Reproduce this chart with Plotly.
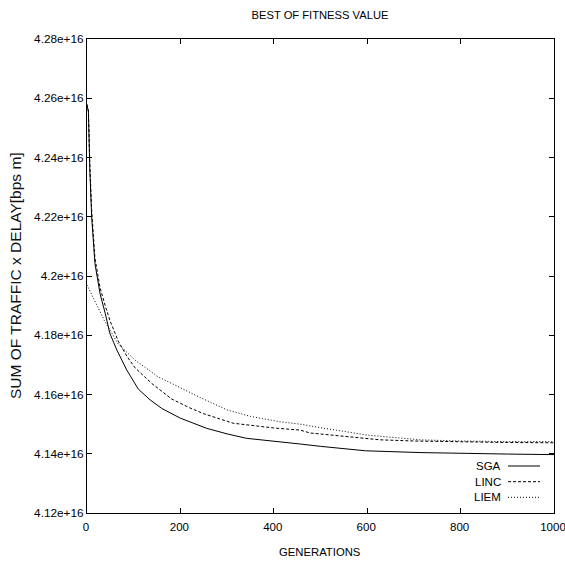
import plotly.graph_objects as go

# ---- data (values in units of 1e16) ----
sga_x = [0, 3, 6, 10, 17, 28, 39, 49, 64, 85, 110, 135, 160, 200, 256, 300, 342, 413, 456, 500, 596, 713, 800, 900, 1000]
sga_y = [4.2575, 4.2555, 4.236, 4.220, 4.2042, 4.194, 4.1874, 4.1806, 4.175, 4.1683, 4.1618, 4.1582, 4.1553, 4.152, 4.1486, 4.1467, 4.1452, 4.1441, 4.1433, 4.1425, 4.141, 4.1404, 4.1401, 4.1399, 4.1397]

linc_x = [0, 3, 6, 10, 17, 28, 39, 49, 67, 85, 103, 139, 181, 220, 250, 313, 400, 456, 478, 550, 628, 700, 800, 900, 1000]
linc_y = [4.258, 4.256, 4.238, 4.222, 4.206, 4.196, 4.190, 4.185, 4.178, 4.173, 4.169, 4.1637, 4.1585, 4.1555, 4.1535, 4.1503, 4.1487, 4.148, 4.147, 4.1458, 4.1447, 4.1443, 4.144, 4.1438, 4.1437]

liem_x = [0, 23, 37, 67, 103, 152, 202, 249, 300, 350, 413, 456, 500, 600, 713, 800, 900, 1000]
liem_y = [4.197, 4.1893, 4.185, 4.177, 4.1716, 4.166, 4.162, 4.1585, 4.1548, 4.1526, 4.1508, 4.150, 4.1488, 4.1463, 4.1447, 4.1443, 4.1441, 4.1441]

series_names = ["SGA", "LINC", "LIEM"]
y_ticks = [4.12, 4.14, 4.16, 4.18, 4.2, 4.22, 4.24, 4.26, 4.28]
y_tick_labels = ["4.12e+16", "4.14e+16", "4.16e+16", "4.18e+16", "4.2e+16", "4.22e+16", "4.24e+16", "4.26e+16", "4.28e+16"]
x_ticks = [0, 200, 400, 600, 800, 1000]

FONT = "Liberation Sans, Arial, sans-serif"

dashes = ["solid", "3px,2px", "1px,2px"]
xs = [sga_x, linc_x, liem_x]
ys = [sga_y, linc_y, liem_y]

fig = go.Figure()
for name, x, y, d in zip(series_names, xs, ys, dashes):
    fig.add_trace(go.Scatter(x=x, y=y, mode="lines", name=name,
                             line=dict(color="black", width=1, dash=d)))

L, R, T, B = 87, 11, 39, 48
W, H = 565, 561
pw, ph = W - L - R, H - T - B
def px_to_paper_x(px):
    return (px - L) / pw
def py_to_paper_y(py):
    return (H - B - py) / ph

# gnuplot-style legend: text right-aligned, sample line to the right
leg_y = [466, 481.7, 497.3]
for name, py, d in zip(series_names, leg_y, dashes):
    fig.add_annotation(x=px_to_paper_x(503), y=py_to_paper_y(py), xref="paper", yref="paper",
                       text=name, showarrow=False, xanchor="right", yanchor="middle",
                       font=dict(family=FONT, size=11.5, color="black"))
    fig.add_shape(type="line", xref="paper", yref="paper",
                  x0=px_to_paper_x(508), x1=px_to_paper_x(540),
                  y0=py_to_paper_y(py), y1=py_to_paper_y(py),
                  line=dict(color="black", width=1, dash=d))

axis_common = dict(showline=True, linecolor="black", linewidth=1, mirror="ticks",
                   ticks="inside", ticklen=5, tickcolor="black", tickwidth=1,
                   showgrid=False, zeroline=False, ticklabeloverflow="allow",
                   automargin=False)

# axis titles placed as paper annotations at their reference positions
fig.add_annotation(x=px_to_paper_x(320), y=py_to_paper_y(551.5), xref="paper", yref="paper",
                   text="GENERATIONS", showarrow=False, xanchor="center", yanchor="middle",
                   font=dict(family=FONT, size=11.3, color="black"))
fig.add_annotation(x=px_to_paper_x(15), y=py_to_paper_y(276), xref="paper", yref="paper",
                   text="SUM OF TRAFFIC x DELAY[bps m]", showarrow=False, textangle=-90,
                   xanchor="center", yanchor="middle",
                   font=dict(family=FONT, size=15.5, color="#111111"))

fig.update_layout(
    width=W, height=H,
    margin=dict(l=L, r=R, t=T, b=B, pad=0),
    paper_bgcolor="white", plot_bgcolor="white",
    showlegend=False,
    title=dict(text="BEST OF FITNESS VALUE", x=320 / W,
               xanchor="center", y=1 - 15.5 / H, yanchor="middle",
               font=dict(family=FONT, size=11.2, color="black")),
    xaxis=dict(range=[0, 1000], tickvals=x_ticks, ticktext=[str(v) for v in x_ticks],
               ticklabelshift=-1, ticklabelstandoff=3,
               tickfont=dict(family=FONT, size=11.5, color="black"),
               **axis_common),
    yaxis=dict(range=[4.12, 4.28], tickvals=y_ticks, ticktext=y_tick_labels,
               tickfont=dict(family=FONT, size=11.8, color="black"),
               **axis_common),
)

fig.write_html("out.html", config={"displayModeBar": False},
               post_script="document.body.style.margin='0';")
